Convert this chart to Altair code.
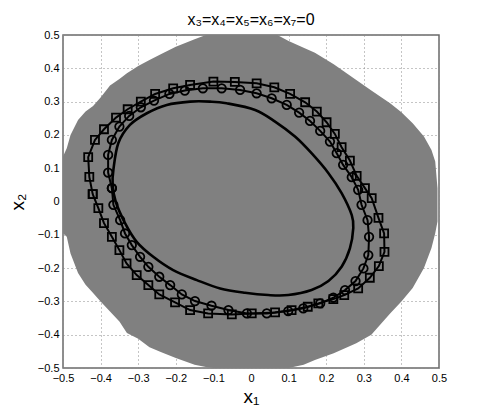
import altair as alt
import pandas as pd

# ---- data ----
ticks = [-0.5, -0.4, -0.3, -0.2, -0.1, 0.0, 0.1, 0.2, 0.3, 0.4, 0.5]

# gray feasible region: boundary (top / bottom) for a set of x1 values
gray_x = [-0.500, -0.490, -0.480, -0.460, -0.440, -0.420, -0.400, -0.375, -0.350, -0.330,
          -0.300, -0.270, -0.240, -0.200, -0.150, -0.120, -0.100, 0.000, 0.070, 0.100,
          0.140, 0.170, 0.220, 0.280, 0.320, 0.370, 0.400, 0.430, 0.460, 0.480, 0.490, 0.496]
gray_top = [0.135, 0.160, 0.200, 0.245, 0.270, 0.287, 0.312, 0.348, 0.368, 0.385,
            0.407, 0.425, 0.442, 0.465, 0.487, 0.500, 0.500, 0.500, 0.500, 0.482,
            0.462, 0.447, 0.412, 0.365, 0.333, 0.295, 0.268, 0.235, 0.195, 0.155, 0.120, 0.040]
gray_bottom = [-0.095, -0.106, -0.156, -0.215, -0.250, -0.275, -0.300, -0.330, -0.360, -0.395,
               -0.412, -0.438, -0.452, -0.470, -0.490, -0.497, -0.500, -0.500, -0.500, -0.500,
               -0.490, -0.476, -0.456, -0.426, -0.400, -0.336, -0.300, -0.260, -0.200, -0.140, -0.095, -0.060]

# outer curve with square markers
sq_x = [-0.421, -0.430, -0.433, -0.415, -0.391, -0.359, -0.328, -0.293, -0.255, -0.207,
        -0.162, -0.100, -0.043, 0.015, 0.062, 0.104, 0.144, 0.175, 0.201, 0.223,
        0.241, 0.263, 0.281, 0.303, 0.321, 0.339, 0.354, 0.355, 0.340, 0.316,
        0.285, 0.248, 0.219, 0.179, 0.151, 0.108, 0.064, 0.002, -0.051, -0.114,
        -0.162, -0.202, -0.244, -0.273, -0.304, -0.331, -0.350, -0.370, -0.391, -0.406]
sq_y = [0.022, 0.074, 0.133, 0.185, 0.217, 0.252, 0.277, 0.300, 0.323, 0.340,
        0.350, 0.360, 0.359, 0.355, 0.343, 0.323, 0.298, 0.270, 0.238, 0.203,
        0.163, 0.123, 0.077, 0.040, 0.010, -0.049, -0.096, -0.151, -0.194, -0.229,
        -0.261, -0.281, -0.293, -0.306, -0.316, -0.326, -0.333, -0.336, -0.339, -0.336,
        -0.326, -0.303, -0.279, -0.251, -0.221, -0.186, -0.146, -0.106, -0.065, -0.020]

# middle curve with circle markers
ci_x = [-0.370, -0.380, -0.380, -0.370, -0.350, -0.324, -0.293, -0.258, -0.217, -0.176,
        -0.128, -0.078, -0.029, 0.015, 0.055, 0.095, 0.128, 0.157, 0.184, 0.210,
        0.228, 0.245, 0.268, 0.285, 0.294, 0.310, 0.314, 0.312, 0.299, 0.278,
        0.250, 0.219, 0.184, 0.139, 0.099, 0.042, -0.011, -0.060, -0.105, -0.149,
        -0.184, -0.215, -0.244, -0.273, -0.295, -0.317, -0.335, -0.348, -0.366]
ci_y = [0.040, 0.087, 0.140, 0.185, 0.225, 0.257, 0.283, 0.303, 0.323, 0.333,
        0.340, 0.340, 0.335, 0.325, 0.310, 0.290, 0.267, 0.242, 0.212, 0.180,
        0.145, 0.110, 0.073, 0.035, -0.010, -0.056, -0.106, -0.161, -0.201, -0.239,
        -0.266, -0.289, -0.306, -0.321, -0.329, -0.336, -0.336, -0.326, -0.313, -0.299,
        -0.279, -0.251, -0.226, -0.196, -0.166, -0.131, -0.096, -0.056, -0.010]

# inner plain curve
in_x = [-0.368, -0.366, -0.353, -0.322, -0.277, -0.224, -0.162, -0.109, -0.065, 0.011,
        0.064, 0.117, 0.161, 0.206, 0.241, 0.268, 0.272, 0.263, 0.241, 0.206,
        0.161, 0.099, 0.046, -0.016, -0.082, -0.144, -0.207, -0.260, -0.304, -0.335,
        -0.360]
in_y = [0.050, 0.095, 0.175, 0.230, 0.265, 0.290, 0.300, 0.300, 0.295, 0.275,
        0.240, 0.195, 0.145, 0.085, 0.025, -0.041, -0.080, -0.141, -0.196, -0.239,
        -0.266, -0.281, -0.281, -0.274, -0.261, -0.236, -0.206, -0.166, -0.121, -0.065,
        0.000]

# ---- tables ----
gray_df = pd.DataFrame({"x": gray_x, "top": gray_top, "bottom": gray_bottom})


def closed(xs, ys):
    xs2 = list(xs) + [xs[0]]
    ys2 = list(ys) + [ys[0]]
    return pd.DataFrame({"x": xs2, "y": ys2, "i": list(range(len(xs2)))})


sq_df = closed(sq_x, sq_y)
ci_df = closed(ci_x, ci_y)
in_df = pd.DataFrame({"x": in_x, "y": in_y, "i": list(range(len(in_x)))})

FONT = "Liberation Sans"

xscale = alt.Scale(domain=[-0.5, 0.5], nice=False, zero=False)
yscale = alt.Scale(domain=[-0.5, 0.5], nice=False, zero=False)

common = dict(values=ticks, tickCount=30, format=".1~f", grid=True, domain=False,
              tickSize=0, labelOverlap=False, labelFlush=False, labelFontSize=11,
              labelColor="black", titleColor="black", titleFontSize=19,
              titleFontWeight="normal", gridDash=[1, 3], gridColor="#8a8a8a",
              labelFont=FONT, titleFont=FONT)

xax = alt.Axis(title="x₁", labelPadding=4, titlePadding=4, **common)
yax = alt.Axis(title="x₂", labelPadding=4, titlePadding=10, **common)

X = alt.X("x:Q", scale=xscale, axis=xax)
Y = alt.Y("y:Q", scale=yscale, axis=yax)

gray = alt.Chart(gray_df).mark_area(color="#808080", opacity=1, clip=True).encode(
    x=X,
    y=alt.Y("top:Q", scale=yscale, axis=yax),
    y2="bottom:Q",
)

inner = alt.Chart(in_df).mark_line(color="black", strokeWidth=2.6,
                                   interpolate="cardinal-closed").encode(
    x=X, y=Y, order="i:Q")

ci_line = alt.Chart(ci_df).mark_line(color="black", strokeWidth=2).encode(
    x=X, y=Y, order="i:Q")
ci_pts = alt.Chart(ci_df).mark_point(shape="circle", filled=False, color="black",
                                     size=72, strokeWidth=1.8, opacity=1).encode(
    x=X, y=Y)

sq_line = alt.Chart(sq_df).mark_line(color="black", strokeWidth=2).encode(
    x=X, y=Y, order="i:Q")
sq_pts = alt.Chart(sq_df).mark_point(shape="square", filled=False, color="black",
                                     size=64, strokeWidth=1.8, opacity=1).encode(
    x=X, y=Y)

chart = alt.layer(gray, inner, ci_line, ci_pts, sq_line, sq_pts).properties(
    width=376,
    height=333,
    title=alt.TitleParams(text="x₃=x₄=x₅=x₆=x₇=0", fontSize=16, font=FONT,
                          fontWeight="normal", color="black", offset=1),
    padding={"left": 55, "top": 27, "right": 38, "bottom": 39},
    autosize=alt.AutoSizeParams(type="none"),
).configure_view(stroke="#6a6a6a", strokeWidth=1.5)

chart.save("out.html", embed_options={"renderer": "svg", "actions": False})
